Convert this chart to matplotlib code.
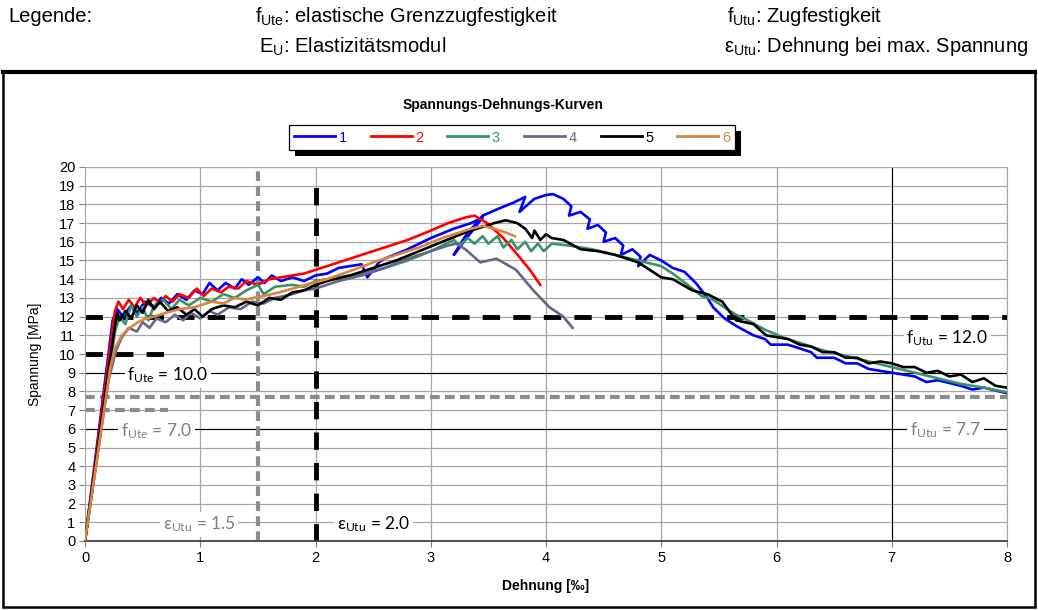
import matplotlib.pyplot as plt
from matplotlib.patches import Rectangle
from matplotlib.lines import Line2D

plt.rcParams['font.family'] = ['Liberation Sans', 'DejaVu Sans']
plt.rcParams['mathtext.default'] = 'regular'
plt.rcParams['lines.scale_dashes'] = False

# --- data (strain in permille, stress in MPa) ---
x1 = [0, 0.24, 0.28, 0.33, 0.4, 0.45, 0.52, 0.6, 0.66, 0.73, 0.8, 0.88, 0.95, 1.02, 1.08, 1.15,
      1.22, 1.3, 1.36, 1.42, 1.5, 1.56, 1.62, 1.7, 1.8, 1.9, 2.0, 2.1, 2.2, 2.3, 2.4, 2.45, 2.55,
      2.6, 2.8, 3.0, 3.2, 3.35, 3.45, 3.2, 3.3, 3.45, 3.6, 3.72, 3.82, 3.77, 3.9, 4.0, 4.06, 4.15,
      4.22, 4.2, 4.3, 4.38, 4.36, 4.45, 4.52, 4.5, 4.6, 4.67, 4.65, 4.75, 4.82, 4.8, 4.9, 5.0,
      5.1, 5.2, 5.3, 5.4, 5.45, 5.55, 5.65, 5.8, 5.9, 5.95, 6.1, 6.3, 6.35, 6.5, 6.6, 6.7, 6.8,
      7.0, 7.2, 7.3, 7.4, 7.6, 7.7, 7.8, 8.0]
y1 = [0, 11.8, 12.4, 12.0, 12.6, 12.2, 12.8, 12.5, 13.0, 12.7, 13.2, 12.9, 13.4, 13.2, 13.8, 13.4,
      13.8, 13.5, 14.0, 13.7, 14.1, 13.8, 14.2, 13.9, 14.1, 13.9, 14.2, 14.3, 14.6, 14.7, 14.8, 14.1, 14.9,
      15.1, 15.6, 16.2, 16.7, 17.0, 17.3, 15.3, 16.3, 17.4, 17.8, 18.1, 18.4, 17.6, 18.3, 18.5, 18.55, 18.3,
      17.9, 17.4, 17.6, 17.2, 16.7, 16.9, 16.5, 16.0, 16.2, 15.8, 15.3, 15.6, 15.2, 14.7, 15.3, 15.0,
      14.6, 14.4, 13.8, 13.0, 12.5, 11.9, 11.5, 11.0, 10.8, 10.5, 10.5, 10.1, 9.8, 9.8, 9.5, 9.5, 9.2,
      9.0, 8.8, 8.5, 8.6, 8.3, 8.1, 8.2, 7.9]

x2 = [0, 0.26, 0.29, 0.33, 0.38, 0.43, 0.48, 0.53, 0.6, 0.65, 0.7, 0.76, 0.82, 0.9, 0.97, 1.03,
      1.1, 1.18, 1.25, 1.33, 1.4, 1.5, 1.6, 1.7, 1.8, 1.9, 2.0, 2.1, 2.2, 2.4, 2.6, 2.8, 3.0, 3.15,
      3.3, 3.38, 3.49, 3.63, 3.74, 3.86, 3.95]
y2 = [0, 12.3, 12.8, 12.4, 12.9, 12.5, 13.0, 12.6, 13.0, 12.7, 13.1, 12.8, 13.2, 13.0, 13.5, 13.1,
      13.5, 13.3, 13.6, 13.5, 13.9, 13.7, 14.0, 14.1, 14.2, 14.3, 14.5, 14.7, 14.9, 15.3, 15.7, 16.1, 16.6, 17.0,
      17.3, 17.4, 17.0, 16.2, 15.4, 14.5, 13.7]

x3 = [0, 0.2, 0.26, 0.3, 0.35, 0.4, 0.45, 0.5, 0.55, 0.6, 0.68, 0.75, 0.82, 0.9, 1.0, 1.1, 1.2,
      1.3, 1.4, 1.5, 1.55, 1.65, 1.8, 1.9, 2.0, 2.2, 2.4, 2.6, 2.8, 3.0, 3.1, 3.2, 3.25, 3.32, 3.38,
      3.45, 3.5, 3.58, 3.63, 3.7, 3.75, 3.82, 3.87, 3.93, 3.98, 4.05, 4.2, 4.4, 4.6, 4.8, 5.0, 5.1,
      5.25, 5.35, 5.45, 5.57, 5.65, 5.75, 5.9, 6.05, 6.2, 6.4, 6.6, 6.8, 7.0, 7.2, 7.4, 7.6, 7.8, 8.0]
y3 = [0, 8.5, 11.2, 12.0, 11.6, 12.6, 12.0, 12.5, 11.8, 12.6, 12.9, 12.4, 12.9, 12.6, 13.0, 12.8, 13.2,
      13.0, 13.4, 13.7, 13.2, 13.6, 13.7, 13.6, 13.9, 14.1, 14.3, 14.6, 15.0, 15.5, 15.8, 16.1, 15.8, 16.2, 15.9,
      16.3, 15.9, 16.3, 15.7, 16.1, 15.6, 16.0, 15.5, 15.9, 15.5, 15.9, 15.8, 15.6, 15.3, 15.0, 14.7, 14.3,
      13.6, 13.1, 12.9, 12.4, 12.1, 11.8, 11.3, 10.9, 10.6, 10.2, 9.9, 9.6, 9.3, 9.0, 8.7, 8.4, 8.2, 7.95]

x4 = [0, 0.2, 0.27, 0.32, 0.38, 0.45, 0.5, 0.56, 0.62, 0.7, 0.78, 0.85, 0.92, 1.0, 1.08, 1.15, 1.25,
      1.35, 1.45, 1.55, 1.65, 1.8, 1.9, 2.0, 2.2, 2.4, 2.6, 2.8, 3.0, 3.15, 3.22, 3.3, 3.43, 3.5,
      3.57, 3.74, 3.89, 4.03, 4.15, 4.23]
y4 = [0, 8.5, 10.2, 10.9, 11.4, 11.2, 11.7, 11.4, 11.9, 11.7, 12.1, 11.8, 12.2, 11.9, 12.3, 12.1, 12.5,
      12.4, 12.8, 12.7, 13.0, 13.2, 13.4, 13.5, 13.9, 14.2, 14.6, 15.1, 15.5, 15.8, 15.9, 15.6, 14.9, 15.0,
      15.1, 14.5, 13.4, 12.5, 12.0, 11.4]

x5 = [0, 0.22, 0.26, 0.28, 0.3, 0.35, 0.4, 0.45, 0.5, 0.55, 0.6, 0.65, 0.72, 0.8, 0.88, 0.95, 1.02,
      1.1, 1.2, 1.3, 1.4, 1.5, 1.6, 1.7, 1.8, 1.9, 2.0, 2.1, 2.3, 2.5, 2.7, 2.9, 3.1, 3.3, 3.45,
      3.55, 3.65, 3.75, 3.82, 3.88, 3.9, 3.95, 4.0, 4.05, 4.15, 4.3, 4.45, 4.6, 4.8, 5.0, 5.1, 5.27,
      5.4, 5.53, 5.6, 5.65, 5.8, 5.91, 6.0, 6.1, 6.2, 6.3, 6.4, 6.5, 6.6, 6.7, 6.8, 6.9, 7.0, 7.1,
      7.2, 7.3, 7.4, 7.5, 7.6, 7.7, 7.8, 7.9, 8.0]
y5 = [0, 9.8, 11.5, 12.2, 11.8, 12.3, 11.9, 12.6, 12.2, 12.9, 12.4, 12.8, 12.3, 12.5, 12.1, 12.4, 12.0,
      12.4, 12.6, 12.5, 12.8, 12.6, 13.0, 12.9, 13.3, 13.4, 13.7, 13.9, 14.2, 14.6, 15.0, 15.5, 16.0, 16.5, 16.8,
      17.0, 17.15, 17.0, 16.7, 16.2, 16.6, 16.1, 16.4, 16.2, 16.1, 15.6, 15.5, 15.3, 14.9, 14.1, 14.0, 13.4,
      13.2, 12.8, 12.2, 11.8, 11.6, 11.0, 10.9, 10.8, 10.5, 10.4, 10.1, 10.1, 9.8, 9.8, 9.5, 9.6, 9.5, 9.3,
      9.3, 9.0, 9.1, 8.8, 8.9, 8.5, 8.7, 8.3, 8.2]

x6 = [0, 0.22, 0.26, 0.32, 0.39, 0.46, 0.53, 0.6, 0.7, 0.82, 0.95, 1.1, 1.2, 1.3, 1.4, 1.46, 1.55,
      1.69, 1.8, 1.98, 2.1, 2.33, 2.5, 2.7, 2.9, 3.1, 3.25, 3.35, 3.45, 3.55, 3.65, 3.73]
y6 = [0, 9.3, 10.3, 11.0, 11.4, 11.7, 11.9, 12.0, 12.2, 12.4, 12.5, 12.8, 12.7, 13.0, 12.9, 13.0, 13.1,
      13.3, 13.5, 13.8, 14.0, 14.5, 14.9, 15.3, 15.7, 16.2, 16.5, 16.7, 16.85, 16.7, 16.5, 16.3]

series = [(x1, y1, '1', '#0000ff'), (x2, y2, '2', '#ff0000'), (x3, y3, '3', '#36936a'),
          (x4, y4, '4', '#66668c'), (x5, y5, '5', '#000000'), (x6, y6, '6', '#d9843f')]

fig = plt.figure(figsize=(10.38, 6.10), dpi=100)
W, H = 1038, 610
ax = fig.add_axes([85 / W, 69 / H, 922 / W, 374 / H])

# grid
for v in range(1, 21):
    ax.axhline(v, color='#a6a6a6', lw=0.9, zorder=1)
for v in range(1, 9):
    ax.axvline(v, color='#a6a6a6', lw=0.9, zorder=1)
ax.axhline(9, color='k', lw=0.8, zorder=1.5)
ax.axhline(6, color='k', lw=0.8, zorder=1.5)
ax.axvline(7, color='k', lw=0.8, zorder=1.5)

# limit lines
blk = dict(color='k', lw=3.5, dashes=(12.5, 9.5), zorder=2)
gry = dict(color='#8c8c8c', lw=3.0, dashes=(7, 3.8), zorder=2)
ax.plot([0, 8], [12, 12], **blk)
ax.plot([0, 0.7], [10, 10], **blk)
ax.plot([2, 2], [0, 19.3], **blk)
ax.plot([0, 8], [7.7, 7.7], **gry)
ax.plot([0, 0.72], [7, 7], **gry)
ax.plot([1.5, 1.5], [0, 20], **gry)

# curves
for xs, ys, lab, col in series:
    ax.plot(xs, ys, color=col, lw=1.9, label=lab, zorder=4)

# labels on the lines
box = dict(facecolor='white', edgecolor='none', pad=2)
lf = ['Lato', 'DejaVu Sans']
ax.text(0.72, 8.85, 'f$_{Ute}$ = 10.0', fontsize=12.5, family=lf, color='k', ha='center', va='center', bbox=box, zorder=3)
ax.text(0.62, 5.85, 'f$_{Ute}$ = 7.0', fontsize=12.5, family=lf, color='#7f7f7f', ha='center', va='center', bbox=box, zorder=3)
ax.text(0.99, 0.88, 'ε$_{Utu}$ = 1.5', fontsize=12.5, family=lf, color='#7f7f7f', ha='center', va='center', bbox=box, zorder=3)
ax.text(2.5, 0.88, 'ε$_{Utu}$ = 2.0', fontsize=12.5, family=lf, color='k', ha='center', va='center', bbox=box, zorder=3)
ax.text(7.48, 10.85, 'f$_{Utu}$ = 12.0', fontsize=12.5, family=lf, color='k', ha='center', va='center', bbox=box, zorder=3)
ax.text(7.47, 5.95, 'f$_{Utu}$ = 7.7', fontsize=12.5, family=lf, color='#7f7f7f', ha='center', va='center', bbox=box, zorder=3)

ax.set_xlim(0, 8)
ax.set_ylim(0, 20)
ax.set_xticks(range(0, 9))
ax.set_yticks(range(0, 21))
ax.tick_params(labelsize=10.5, length=4, color='#808080', pad=3)
for s in ax.spines.values():
    s.set_color('#a6a6a6')
ax.spines['bottom'].set_color('#404040')
ax.spines['bottom'].set_linewidth(1.3)
ax.set_xlabel('Dehnung [‰]', fontsize=10, fontweight='bold', labelpad=10)
ax.set_ylabel('Spannung [MPa]', fontsize=10, labelpad=12)

# title and legend
fig.text(503 / W, 1 - 105 / H, 'Spannungs-Dehnungs-Kurven', fontsize=10, fontweight='bold', ha='center', va='center')
handles = [Line2D([], [], color=c, lw=2) for _, _, _, c in series]
leg = fig.legend(handles, [l for _, _, l, _ in series], loc='center', bbox_to_anchor=(512 / W, 1 - 137.5 / H),
                 ncol=6, fontsize=10.5, frameon=True, fancybox=False, framealpha=1, handlelength=2.8,
                 handletextpad=0.25, columnspacing=1.65, borderpad=0.35, borderaxespad=0,
                 labelcolor='linecolor')
leg.get_frame().set_edgecolor('k')
leg.get_frame().set_linewidth(0.9)
fig.canvas.draw()
bb = leg.get_window_extent()
fig.add_artist(Rectangle((bb.x0 + 6, bb.y0 - 6), bb.width, bb.height, transform=None,
                         facecolor='k', edgecolor='none', zorder=4))

# chart frame
fig.add_artist(Rectangle((3 / W, 3 / H), 1032 / W, (538 - 3) / H, transform=fig.transFigure,
                         facecolor='none', edgecolor='k', lw=1.8, zorder=3))
fig.add_artist(Line2D([3 / W, 1035 / W], [538 / H, 538 / H], transform=fig.transFigure, color='k', lw=3))

# header legend text
hs = 14.5
fig.text(8 / W, 1 - 17 / H, 'Legende:', fontsize=hs, va='center')
fig.text(255 / W, 1 - 17 / H, 'f$_{Ute}$: elastische Grenzzugfestigkeit', fontsize=hs, va='center')
fig.text(259 / W, 1 - 47 / H, 'E$_{U}$: Elastizitätsmodul', fontsize=hs, va='center')
fig.text(727 / W, 1 - 17 / H, 'f$_{Utu}$: Zugfestigkeit', fontsize=hs, va='center')
fig.text(724 / W, 1 - 47 / H, 'ε$_{Utu}$: Dehnung bei max. Spannung', fontsize=hs, va='center')

fig.savefig('out.png', dpi=100)
